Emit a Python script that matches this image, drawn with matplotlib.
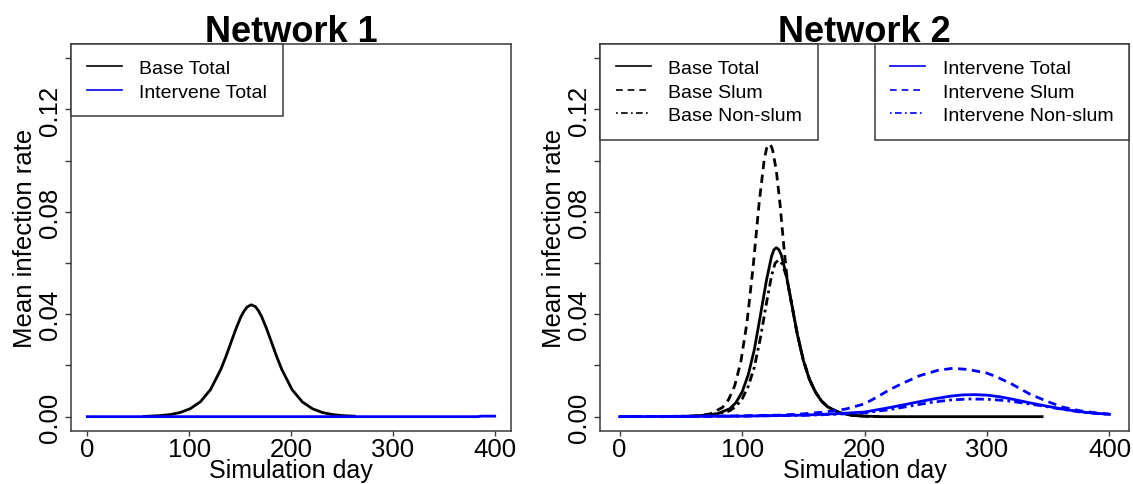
import numpy as np
import matplotlib
matplotlib.use("Agg")
import matplotlib.pyplot as plt
from matplotlib.lines import Line2D

plt.rcParams['font.family'] = ['Liberation Sans', 'DejaVu Sans']

# Network 1: mean infection rate by simulation day
n1_base_day = [56, 61, 71, 81, 91, 101, 111, 121, 131, 136, 141, 146, 151, 154, 157,
               161, 165, 168, 171, 176, 181, 186, 191, 201, 211, 221, 231, 241, 251, 262]
n1_base_total = [0.0001, 0.0002, 0.0004, 0.0008, 0.0016, 0.0031, 0.0058, 0.0106, 0.0184,
                 0.0234, 0.0289, 0.0344, 0.0392, 0.0413, 0.0429, 0.0437, 0.0430, 0.0414,
                 0.0392, 0.0344, 0.0289, 0.0234, 0.0184, 0.0106, 0.0058, 0.0031, 0.0016,
                 0.0008, 0.0004, 0.0002]
n1_int_day = [0, 100, 200, 300, 383, 387, 400]
n1_int_total = [0.0, 0.0, 0.0, 0.0, 0.0, 0.0002, 0.0002]

# Network 2: base scenario
n2_bt_day = [35, 40, 60, 70, 80, 90, 95, 100, 105, 110, 115, 120, 124, 126, 128, 130,
             132, 136, 140, 145, 150, 155, 160, 165, 170, 180, 190, 200, 215, 345]
n2_base_total = [0.0, 0.0001, 0.0002, 0.0006, 0.0012, 0.0031, 0.0055, 0.0096, 0.0163,
                 0.0262, 0.0397, 0.0535, 0.0625, 0.0652, 0.0660, 0.0653, 0.0632, 0.0556,
                 0.0454, 0.0324, 0.0220, 0.0145, 0.0095, 0.0060, 0.0038, 0.0015, 0.0005,
                 0.0002, 0.0, 0.0]
n2_bs_day = [35, 54, 64, 74, 84, 89, 94, 99, 104, 109, 114, 118, 120, 122, 124, 125,
             128, 131, 134, 137, 140, 145, 150, 155, 160, 165, 170, 180, 190, 200, 212]
n2_base_slum = [0.0, 0.0001, 0.0003, 0.0011, 0.0036, 0.0067, 0.0121, 0.0215, 0.0368,
                0.0585, 0.0838, 0.1001, 0.1048, 0.1065, 0.1055, 0.1040, 0.0960, 0.0830,
                0.0670, 0.0530, 0.0450, 0.0325, 0.0222, 0.0147, 0.0096, 0.0061, 0.0038,
                0.0014, 0.0005, 0.0002, 0.0]
n2_bn_day = [35, 40, 60, 70, 80, 90, 95, 100, 105, 110, 115, 120, 124, 127, 130, 133,
             136, 140, 145, 150, 155, 160, 165, 170, 180, 190, 200, 212]
n2_base_nonslum = [0.0, 0.0001, 0.0002, 0.0005, 0.0010, 0.0023, 0.0040, 0.0069, 0.0118,
                   0.0193, 0.0308, 0.0446, 0.0549, 0.0600, 0.0612, 0.0595, 0.0550,
                   0.0455, 0.0325, 0.0221, 0.0146, 0.0095, 0.0060, 0.0038, 0.0015,
                   0.0005, 0.0002, 0.0]

# Network 2: intervention scenario
n2_it_day = [0, 50, 100, 150, 175, 200, 220, 240, 255, 270, 280, 290, 300, 310, 320,
             335, 350, 365, 380, 400]
n2_int_total = [0.0, 0.0001, 0.0002, 0.0006, 0.0011, 0.0018, 0.0035, 0.0054, 0.0068,
                0.0080, 0.0085, 0.0086, 0.0084, 0.0078, 0.0069, 0.0054, 0.0040, 0.0027,
                0.0017, 0.0009]
n2_is_day = [0, 50, 100, 130, 150, 165, 175, 185, 200, 210, 220, 230, 245, 260, 272,
             285, 300, 308, 320, 335, 350, 362, 376, 390, 400]
n2_int_slum = [0.0, 0.0001, 0.0003, 0.0006, 0.0011, 0.0017, 0.0023, 0.0030, 0.0050,
               0.0076, 0.0104, 0.0128, 0.0160, 0.0181, 0.0189, 0.0184, 0.0170, 0.0155,
               0.0128, 0.0088, 0.0058, 0.0037, 0.0023, 0.0014, 0.0010]
n2_in_day = [0, 50, 100, 150, 175, 200, 220, 240, 255, 270, 285, 300, 315, 330, 345,
             360, 375, 390, 400]
n2_int_nonslum = [0.0, 0.0001, 0.0002, 0.0005, 0.0009, 0.0015, 0.0027, 0.0044, 0.0056,
                  0.0065, 0.0069, 0.0068, 0.0063, 0.0053, 0.0042, 0.0030, 0.0019,
                  0.0012, 0.0009]

BLUE = '#0000ff'
EDGE = '#3a3a3a'
DASH = (3, 2)
DOTDASH = (1, 1.5, 3, 1.5)

fig = plt.figure(figsize=(11.33, 4.85), dpi=100)
ax1 = fig.add_axes([0.0627, 0.1093, 0.3883, 0.798])
ax2 = fig.add_axes([0.5296, 0.1093, 0.4669, 0.798])


def style_axes(ax, title):
    ax.set_xlim(-16, 416)
    ax.set_ylim(-0.0056, 0.1456)
    ax.set_xticks([0, 100, 200, 300, 400])
    ax.set_yticks([0, 0.02, 0.04, 0.06, 0.08, 0.10, 0.12, 0.14])
    ax.set_yticklabels(['0.00', '', '0.04', '', '0.08', '', '0.12', ''])
    ax.tick_params(axis='both', direction='out', color=EDGE, width=1.0,
                   labelsize=18.5)
    ax.tick_params(axis='x', length=3.5, pad=0.5)
    ax.tick_params(axis='y', length=4.5, pad=2, labelrotation=90)
    for lab in ax.get_yticklabels():
        lab.set_va('center')
    for sp in ax.spines.values():
        sp.set_color(EDGE)
        sp.set_linewidth(1.1)
    ax.set_xlabel('Simulation day', fontsize=18, labelpad=-1.5)
    ax.set_ylabel('Mean infection rate', fontsize=18.5, labelpad=1)
    # fixed y keeps the title where it is put
    ax.set_title(title, fontsize=26, fontweight='bold', y=1.0, pad=2.2)


def make_legend(ax, handles, labels, anchor, loc):
    leg = ax.legend(handles, labels, loc=loc, bbox_to_anchor=anchor,
                    borderaxespad=0, fancybox=False, framealpha=1,
                    edgecolor=EDGE, fontsize=14, handlelength=1.8,
                    handletextpad=0.9, borderpad=0.8, labelspacing=0.3)
    leg.get_frame().set_linewidth(1.1)
    return leg


# Network 1
ax1.plot(n1_base_day, n1_base_total, color='black', lw=2)
ax1.plot(n1_int_day, n1_int_total, color=BLUE, lw=2)
style_axes(ax1, 'Network 1')
make_legend(ax1,
            [Line2D([], [], color='black', lw=1.2),
             Line2D([], [], color=BLUE, lw=1.2)],
            ['Base Total', 'Intervene Total'], (0, 1), 'upper left')

# Network 2
ax2.plot(n2_bt_day, n2_base_total, color='black', lw=2)
ax2.plot(n2_bs_day, n2_base_slum, color='black', lw=2, dashes=DASH)
ax2.plot(n2_bn_day, n2_base_nonslum, color='black', lw=2, dashes=DOTDASH)
ax2.plot(n2_it_day, n2_int_total, color=BLUE, lw=2)
ax2.plot(n2_is_day, n2_int_slum, color=BLUE, lw=2, dashes=DASH)
ax2.plot(n2_in_day, n2_int_nonslum, color=BLUE, lw=2, dashes=DOTDASH)
style_axes(ax2, 'Network 2')

leg_base = make_legend(ax2,
                       [Line2D([], [], color='black', lw=1.2),
                        Line2D([], [], color='black', lw=1.2, dashes=(4, 3)),
                        Line2D([], [], color='black', lw=1.2, dashes=(1, 2, 4, 2))],
                       ['Base Total', 'Base Slum', 'Base Non-slum'], (0, 1), 'upper left')
ax2.add_artist(leg_base)
make_legend(ax2,
            [Line2D([], [], color=BLUE, lw=1.2),
             Line2D([], [], color=BLUE, lw=1.2, dashes=(4, 3)),
             Line2D([], [], color=BLUE, lw=1.2, dashes=(1, 2, 4, 2))],
            ['Intervene Total', 'Intervene Slum', 'Intervene Non-slum'], (1, 1),
            'upper right')

fig.savefig('out.png', dpi=100)
